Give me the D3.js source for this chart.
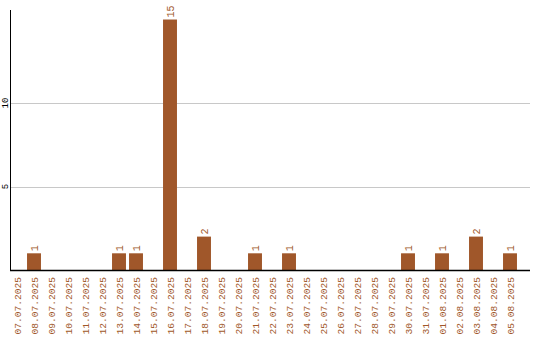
<!DOCTYPE html>
<html>
<head>
<meta charset="utf-8">
<script src="https://cdn.jsdelivr.net/npm/d3@7"></script>
<style>
  body { margin: 0; background: #fff; }
  svg { display: block; }
  text { font-family: "Liberation Mono", "DejaVu Sans Mono", monospace; }
</style>
</head>
<body>
<div id="chart"></div>
<script>
// dates shown on the x axis
const dates = ['07.07.2025', '08.07.2025', '09.07.2025', '10.07.2025', '11.07.2025',
    '12.07.2025', '13.07.2025', '14.07.2025', '15.07.2025', '16.07.2025',
    '17.07.2025', '18.07.2025', '19.07.2025', '20.07.2025', '21.07.2025',
    '22.07.2025', '23.07.2025', '24.07.2025', '25.07.2025', '26.07.2025',
    '27.07.2025', '28.07.2025', '29.07.2025', '30.07.2025', '31.07.2025',
    '01.08.2025', '02.08.2025', '03.08.2025', '04.08.2025', '05.08.2025'];
const counts = [0, 1, 0, 0, 0, 0, 1, 1, 0, 15, 0, 2, 0, 0, 1, 0, 1, 0, 0, 0,
    0, 0, 0, 1, 0, 1, 0, 2, 0, 1];
const yTicks = [5, 10];

let width = 540,
    height = 340,
    plotLeft = 10,
    plotRight = 530,
    plotTop = 10,
    plotBottom = 270,
    color = '#a0572a';

let svg = d3.select('#chart').append('svg')
    .attr('width', width)
    .attr('height', height);

let x = d3.scaleBand()
    .domain(dates)
    .range([8.5, 518.5])
    .paddingInner(0.18)
    .paddingOuter(0.09);

let y = d3.scaleLinear()
    .domain([0, 15.57])
    .range([plotBottom, plotTop]);

// grid lines
svg.append('g').selectAll('line')
    .data(yTicks)
    .enter().append('line')
    .attr('x1', plotLeft)
    .attr('x2', plotRight)
    .attr('y1', d => Math.round(y(d)) + 0.5)
    .attr('y2', d => Math.round(y(d)) + 0.5)
    .style('stroke', '#c8c8c8');

// y tick labels, rotated
svg.append('g').selectAll('text')
    .data(yTicks)
    .enter().append('text')
    .attr('transform', d => 'translate(7.5,' + y(d) + ') rotate(-90)')
    .attr('text-anchor', 'middle')
    .style('font-size', '9px')
    .style('fill', '#000')
    .text(d => d);

// bars
svg.append('g').selectAll('rect')
    .data(counts)
    .enter().append('rect')
    .attr('x', (d, i) => x(dates[i]))
    .attr('width', x.bandwidth())
    .attr('y', d => y(d))
    .attr('height', d => plotBottom - y(d))
    .style('fill', color);

// value labels
svg.append('g').selectAll('text')
    .data(counts.map((d, i) => ({ v: d, date: dates[i] })).filter(d => d.v > 0))
    .enter().append('text')
    .attr('transform', d => 'translate(' + (x(d.date) + x.bandwidth() / 2 + 3.5) + ',' + (y(d.v) - 2) + ') rotate(-90)')
    .style('font-size', '10px')
    .style('fill', color)
    .text(d => d.v);

// axes lines
svg.append('line')
    .attr('x1', plotLeft + 0.5).attr('x2', plotLeft + 0.5)
    .attr('y1', plotTop).attr('y2', plotBottom)
    .style('stroke', '#000');
svg.append('line')
    .attr('x1', plotLeft).attr('x2', plotRight)
    .attr('y1', plotBottom + 0.5).attr('y2', plotBottom + 0.5)
    .style('stroke', '#000')
    .style('stroke-width', 1.5);

// x labels
svg.append('g').selectAll('text')
    .data(dates)
    .enter().append('text')
    .attr('transform', d => 'translate(' + (x(d) + x.bandwidth() / 2 + 3.5) + ',277) rotate(-90)')
    .attr('text-anchor', 'end')
    .style('font-size', '9.6px')
    .style('fill', color)
    .text(d => d);
</script>
</body>
</html>
